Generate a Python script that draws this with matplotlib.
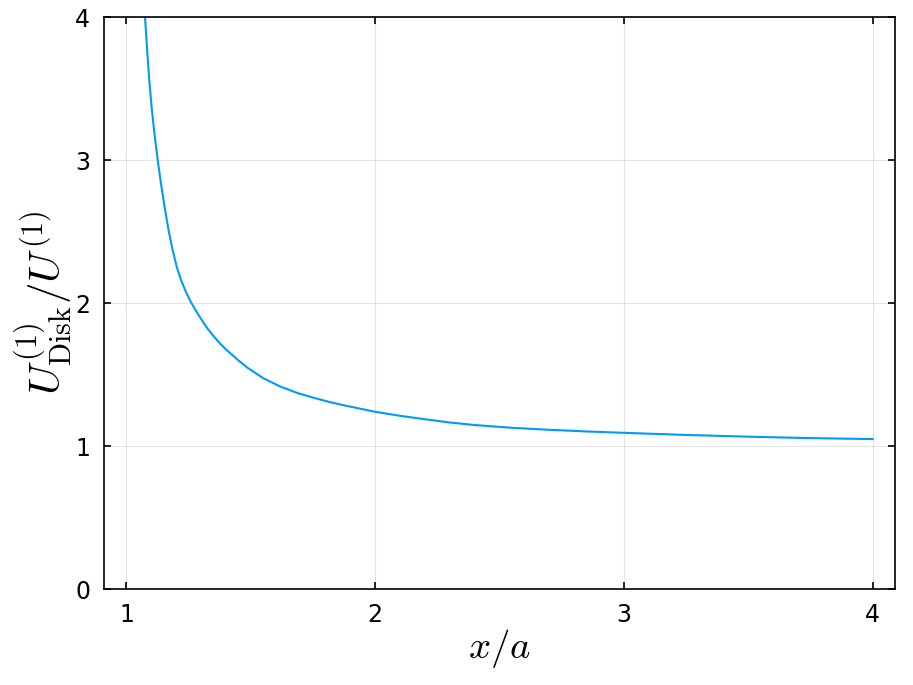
import matplotlib
matplotlib.use("Agg")
from matplotlib import pyplot as plt

# values
x_ratio = [1.075, 1.083, 1.0924, 1.102, 1.1125, 1.126, 1.139, 1.153, 1.169,
           1.186, 1.203, 1.220, 1.240, 1.260, 1.280, 1.300, 1.325, 1.350,
           1.375, 1.400, 1.450, 1.487, 1.550, 1.621, 1.690, 1.755, 1.820,
           1.889, 2.000, 2.100, 2.200, 2.300, 2.410, 2.550, 2.700, 2.850,
           3.000, 3.250, 3.520, 3.750, 4.000]
u_ratio = [4.00, 3.78, 3.55, 3.36, 3.19, 3.00, 2.837, 2.68, 2.515,
           2.37, 2.25, 2.16, 2.075, 2.005, 1.945, 1.89, 1.825, 1.77,
           1.72, 1.677, 1.60, 1.548, 1.475, 1.415, 1.37, 1.337, 1.307,
           1.28, 1.24, 1.212, 1.188, 1.165, 1.146, 1.128, 1.114, 1.1025,
           1.093, 1.078, 1.065, 1.056, 1.049]
xticks = [1, 2, 3, 4]
yticks = [0, 1, 2, 3, 4]

plt.rcParams['mathtext.fontset'] = 'cm'

fig = plt.figure(figsize=(9.13, 6.85), dpi=100)
ax = fig.add_axes([0.1139, 0.140, 0.8664, 0.835])
ax.plot(x_ratio, u_ratio, color='#009AFA', linewidth=1.5)

ax.set_xlim(0.91, 4.09)
ax.set_ylim(0, 4)
ax.set_xticks(xticks)
ax.set_yticks(yticks)
ax.grid(True, color='black', alpha=0.1, linewidth=0.8)
ax.tick_params(direction='in', length=5, width=1.2, labelsize=17,
               top=True, right=True, pad=10)
for s in ax.spines.values():
    s.set_linewidth(1.2)

ax.set_xlabel(r'$x/a$', fontsize=28, labelpad=0)
ax.set_ylabel(r'$U^{(1)}_{\mathrm{Disk}}/U^{(1)}$', fontsize=31, labelpad=0)

plt.savefig("out.png", dpi=100)
plt.close()
